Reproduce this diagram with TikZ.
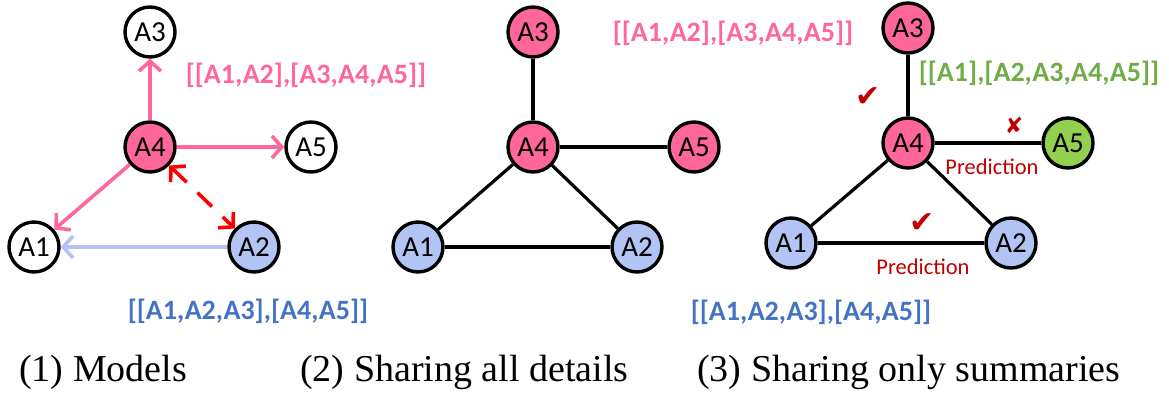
\documentclass[tikz,border=0pt]{standalone}
\usepackage{fontspec}
\setmainfont{Liberation Serif}
\newfontfamily\calib{Carlito}
\newfontfamily\dejavu{DejaVu Sans}
\usetikzlibrary{arrows.meta}
\definecolor{pinkfill}{RGB}{255,102,153}
\definecolor{bluefill}{RGB}{178,196,243}
\definecolor{greenfill}{RGB}{146,208,80}
\definecolor{pinktext}{RGB}{255,102,153}
\definecolor{bluetext}{RGB}{68,114,196}
\definecolor{greentext}{RGB}{112,173,71}
\definecolor{darkred}{RGB}{192,0,0}
\begin{document}
\begin{tikzpicture}[x=1pt,y=-1pt,
  agent/.style={circle,draw=black,line width=3.4pt,minimum size=50pt,inner sep=0pt,
    font=\calib\fontsize{29}{29}\selectfont},
  pinkagent/.style={agent,fill=pinkfill},
  blueagent/.style={agent,fill=bluefill},
  greenagent/.style={agent,fill=greenfill},
  whiteagent/.style={agent,fill=white},
  grouplabel/.style={font=\calib\bfseries\fontsize{28}{28}\selectfont,inner sep=0pt},
  caption/.style={font=\fontsize{38}{38}\selectfont,anchor=base west,inner sep=0pt},
  predlabel/.style={font=\calib\fontsize{22.5}{22.5}\selectfont,text=darkred,inner sep=0pt},
  symbolmark/.style={font=\dejavu\fontsize{30}{30}\selectfont,text=darkred,inner sep=0pt},
  barb/.tip={Straight Barb[length=10pt,width=22pt]},
  pinkarrow/.style={draw=pinkfill,line width=3.6pt,-barb},
  bluearrow/.style={draw=bluefill,line width=3.6pt,-barb},
  redarrow/.style={draw=red,line width=3.6pt,barb-barb,dash pattern=on 20pt off 15pt},
  link/.style={draw=black,line width=3.2pt}
]
\useasboundingbox (0,0) rectangle (1169,395);

% Panel 1
\node[whiteagent] (p1a3) at (150,32) {A3};
\node[pinkagent] (p1a4) at (150,147) {A4};
\node[whiteagent] (p1a5) at (311,147) {A5};
\node[whiteagent] (p1a1) at (34,247) {A1};
\node[blueagent] (p1a2) at (254,247) {A2};
\draw[pinkarrow] (p1a4) -- (p1a3);
\draw[pinkarrow] (p1a4) -- (p1a5);
\draw[pinkarrow] (p1a4) -- (p1a1);
\draw[bluearrow] (p1a2) -- (p1a1);
\draw[redarrow] (p1a4) -- (p1a2);
\node[grouplabel,text=pinktext] (p1pink) at (306,75) {[[A1,A2],[A3,A4,A5]]};
\node[grouplabel,text=bluetext] (p1blue) at (248,311) {[[A1,A2,A3],[A4,A5]]};
\node[caption] (cap1) at (19,381) {(1) Models};

% Panel 2
\node[pinkagent] (p2a3) at (533,32) {A3};
\node[pinkagent] (p2a4) at (533,147) {A4};
\node[pinkagent] (p2a5) at (694,147) {A5};
\node[blueagent] (p2a1) at (418,247) {A1};
\node[blueagent] (p2a2) at (637,247) {A2};
\draw[link] (p2a4) -- (p2a3);
\draw[link] (p2a4) -- (p2a5);
\draw[link] (p2a4) -- (p2a1);
\draw[link] (p2a4) -- (p2a2);
\draw[link] (p2a1) -- (p2a2);
\node[grouplabel,text=pinktext] (p2pink) at (733,33) {[[A1,A2],[A3,A4,A5]]};
\node[caption] (cap2) at (300,381) {(2) Sharing all details};

% Panel 3
\node[pinkagent] (p3a3) at (908,28) {A3};
\node[pinkagent] (p3a4) at (908,143) {A4};
\node[greenagent] (p3a5) at (1068,143) {A5};
\node[blueagent] (p3a1) at (791,243) {A1};
\node[blueagent] (p3a2) at (1011,243) {A2};
\draw[link] (p3a4) -- (p3a3);
\draw[link] (p3a4) -- (p3a5);
\draw[link] (p3a4) -- (p3a1);
\draw[link] (p3a4) -- (p3a2);
\draw[link] (p3a1) -- (p3a2);
\node[grouplabel,text=greentext] (p3green) at (1039,73) {[[A1],[A2,A3,A4,A5]]};
\node[grouplabel,text=bluetext] (p3blue) at (811,312) {[[A1,A2,A3],[A4,A5]]};
\node[symbolmark] (check1) at (868,97) {✔};
\node[symbolmark] (check2) at (922,223) {✔};
\node[symbolmark,font=\dejavu\fontsize{22}{22}\selectfont] (cross) at (1014,125) {✘};
\node[predlabel] (pred1) at (992,167) {Prediction};
\node[predlabel] (pred2) at (923,267) {Prediction};
\node[caption] (cap3) at (697,381) {(3) Sharing only summaries};
\end{tikzpicture}
\end{document}
